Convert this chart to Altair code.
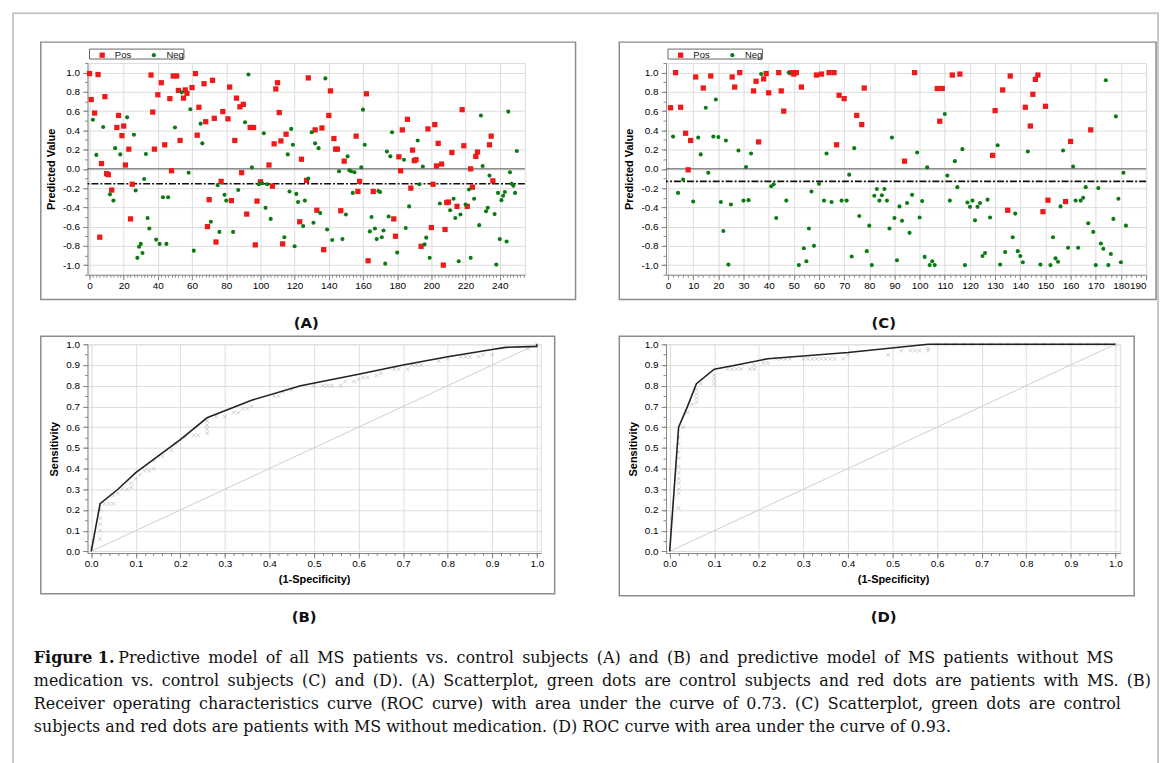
import altair as alt
import pandas as pd

# ---------------- data ----------------
A_POS_X = [0,1,3,5,6,7,9,10,11,13,16,17,19,20,21,23,24,25,36,37,38,40,42,44,47,48,49,51,52,53,55,56,57,60,62,63,64,67,68,69,70,72,73,74,77,78,81,82,83,85,86,88,89,90,92,94,96,97,98,100,105,107,108,109,110,111,112,113,115,123,124,127,128,132,133,136,137,140,141,143,144,145,147,149,156,157,158,162,163,166,178,179,181,182,183,186,188,189,190,191,194,198,200,201,202,203,204,206,207,208,209,210,212,215,218,219,221,223,224,226,227,234,235,236]
A_POS_Y = [0.99,0.72,0.58,0.98,-0.71,0.055,0.75,-0.05,-0.06,-0.22,0.43,0.555,0.345,0.445,0.04,0.205,-0.52,-0.16,0.975,0.59,0.205,0.77,0.895,0.25,0.73,-0.02,0.965,0.965,0.815,0.295,0.735,0.82,0.785,0.845,0.99,0.35,0.64,0.885,0.49,-0.6,-0.32,0.92,0.525,-0.76,-0.13,0.595,0.52,0.85,-0.33,0.295,0.735,0.645,-0.04,0.67,-0.47,0.43,0.43,-0.79,-0.335,-0.135,0.04,-0.18,0.26,0.83,0.895,0.585,0.29,-0.78,0.36,-0.55,0.1,-0.12,0.945,0.405,-0.43,0.425,-0.84,0.555,0.81,0.315,0.205,0.205,-0.435,0.08,0.34,-0.235,-0.13,0.78,-0.955,-0.235,-0.52,-0.7,0.125,-0.02,0.405,0.515,-0.2,0.195,0.085,0.095,-0.805,0.415,-0.61,-0.16,0.46,0.03,0.265,0.05,-1.0,-0.63,-0.35,-0.345,0.17,-0.39,0.615,0.24,-0.39,0.0,-0.19,0.13,0.175,0.25,0.34,-0.125]
A_NEG_X = [2,4,8,12,14,15,18,22,26,27,28,29,30,31,32,33,34,35,39,41,43,45,46,50,54,58,59,61,65,66,71,75,76,79,80,84,87,91,93,95,99,101,102,103,104,106,114,116,117,118,119,120,121,122,125,126,128,130,131,132,134,135,138,139,142,146,148,150,151,152,153,154,155,159,160,161,164,165,167,168,169,170,171,172,173,174,175,176,177,180,184,185,187,192,193,195,196,197,199,205,211,213,214,216,217,220,222,223,225,228,229,230,232,233,234,237,238,239,240,241,242,243,244,245,246,247,248,249,250]
A_NEG_Y = [0.51,0.145,0.435,-0.265,-0.33,0.215,0.15,0.535,0.355,-0.225,-0.925,-0.81,-0.78,-0.875,-0.105,0.155,-0.51,-0.62,-0.735,-0.78,-0.295,-0.78,-0.295,0.43,0.795,-0.04,0.62,-0.85,0.47,0.265,-0.55,-0.17,-0.655,-0.27,-0.33,-0.655,-0.22,0.485,0.98,0.015,-0.16,-0.15,0.37,-0.405,-0.16,-0.52,-0.71,0.15,-0.235,0.415,0.25,-0.805,-0.26,-0.345,-0.595,-0.33,-0.1,0.38,-0.56,0.265,0.215,-0.46,0.94,-0.63,-0.74,-0.025,-0.73,-0.475,0.13,-0.015,-0.025,-0.25,-0.035,0.015,0.615,0.25,-0.65,-0.5,-0.62,-0.73,-0.23,-0.24,-0.71,-0.64,-0.985,0.18,-0.495,0.13,0.38,-0.87,0.095,-0.615,-0.39,0.295,-0.16,0.025,-0.785,-0.715,-0.925,-0.36,-0.43,-0.31,-0.51,-0.96,-0.475,-0.37,-0.215,-0.925,-0.31,-0.585,0.555,0.03,-0.44,-0.405,-0.07,-0.47,-0.995,-0.25,-0.73,-0.325,-0.28,-0.24,-0.755,0.595,-0.035,-0.155,-0.175,-0.25,0.185]

C_POS_X = [1,3,5,7,8,9,11,14,17,25.5,26.5,28.5,34,35,36,38,39,40,44,45,46,49,50,51,53,59,61,64,66,67,68,70,75,77,78,94,98,107,108,109,113,116,129,130,133,135,136,142,144,145,146,147,149,150,151,158,160,168]
C_POS_Y = [0.635,1.0,0.64,0.37,-0.01,0.295,0.955,0.84,0.965,0.955,0.85,1.0,0.81,0.91,0.28,0.935,0.99,0.79,1.0,0.81,0.6,1.0,0.985,1.0,0.85,0.975,0.985,1.0,1.0,0.25,0.765,0.73,0.555,0.46,0.84,0.08,1.0,0.835,0.495,0.835,0.975,0.985,0.14,0.605,0.82,-0.43,0.965,0.64,0.445,0.775,0.93,0.975,-0.445,0.65,-0.325,-0.34,0.285,0.405]
C_NEG_X = [2,4,6,10,12,13,15,16,18,19,20,21,22,23,24,25,28,30,31,32,33,37,41,42,43,47,48,52,54,55,56,57,58,60,62,63,65,69,71,72,73,74,76,79,80,81,82,83,84,85,86,87,88,89,90,91,92,93,95,96,97,99,100,101,102,103,104,105,106,110,111,112,114,115,117,118,119,120,121,122,123,124,125,126,127,128,131,132,134,137,138,139,140,141,143,148,152,153,154,155,156,157,159,161,162,163,164,165,166,167,169,170,171,172,173,174,175,176,177,178,179,180,181,182]
C_NEG_Y = [0.335,-0.25,-0.11,-0.34,0.325,0.15,0.635,-0.04,0.335,0.72,0.33,-0.345,-0.645,0.295,-0.995,-0.37,0.19,-0.33,0.02,-0.325,0.16,0.985,-0.18,-0.16,-0.51,-0.33,1.0,-1.0,-0.825,-0.96,-0.62,-0.235,-0.8,-0.155,-0.33,0.16,-0.345,-0.33,-0.33,-0.06,-0.91,0.215,-0.49,-0.855,-0.59,-1.0,-0.28,-0.21,-0.33,-0.275,-0.21,-0.33,-0.62,0.325,-0.51,-0.95,-0.39,-0.54,-0.355,-0.665,-0.27,0.17,-0.505,-0.335,-0.915,0.015,-1.0,-0.96,-1.0,0.57,-0.07,-0.33,0.08,-0.19,0.205,-1.0,-0.35,-0.395,-0.33,-0.535,-0.395,-0.355,-0.905,-0.875,-0.32,-0.505,0.245,-0.995,-0.865,-0.71,-0.465,-0.855,-0.905,-0.97,0.18,-0.995,-1.0,-0.71,-0.93,-0.965,-0.39,0.19,-0.82,0.025,-0.33,-0.82,-0.33,-0.3,-0.19,-0.565,-0.655,-1.0,-0.2,-0.775,-0.83,0.92,-1.0,-0.885,-0.52,0.545,-0.31,-0.97,-0.04,-0.59]

A_THRESHOLD = -0.155
C_THRESHOLD = -0.13

B_CURVE_X = [0.0,0.02,0.06,0.10,0.20,0.26,0.36,0.47,0.60,0.70,0.80,0.90,0.93,1.0,1.0]
B_CURVE_Y = [0.0,0.23,0.30,0.38,0.54,0.645,0.73,0.80,0.855,0.90,0.94,0.975,0.985,0.99,1.0]
B_EMP_X = [0.0,0.005,0.02,0.02,0.02,0.02,0.02,0.03,0.04,0.05,0.05,0.06,0.07,0.08,0.09,0.09,0.10,0.11,0.12,0.13,0.14,0.14,0.15,0.16,0.18,0.19,0.20,0.21,0.23,0.24,0.26,0.26,0.26,0.26,0.28,0.30,0.32,0.33,0.34,0.35,0.36,0.41,0.42,0.43,0.45,0.50,0.52,0.53,0.54,0.56,0.57,0.59,0.60,0.61,0.62,0.64,0.65,0.68,0.69,0.71,0.72,0.73,0.74,0.78,0.80,0.83,0.84,0.85,0.87,0.88,0.90,0.98,1.0]
B_EMP_Y = [0.02,0.05,0.06,0.10,0.13,0.16,0.20,0.23,0.23,0.23,0.27,0.28,0.30,0.30,0.31,0.33,0.35,0.37,0.39,0.39,0.40,0.44,0.46,0.46,0.49,0.52,0.54,0.55,0.56,0.56,0.57,0.59,0.61,0.63,0.65,0.65,0.67,0.67,0.69,0.69,0.70,0.75,0.75,0.77,0.78,0.80,0.80,0.80,0.80,0.80,0.82,0.82,0.83,0.84,0.84,0.85,0.86,0.88,0.88,0.88,0.90,0.90,0.90,0.92,0.93,0.94,0.94,0.94,0.94,0.95,0.95,0.98,1.0]

D_CURVE_X = [0.0,0.02,0.04,0.06,0.10,0.15,0.22,0.40,0.58,1.0]
D_CURVE_Y = [0.0,0.60,0.70,0.81,0.88,0.90,0.93,0.96,1.0,1.0]
D_EMP_X = [0.005,0.02,0.02,0.02,0.02,0.02,0.02,0.02,0.02,0.02,0.02,0.02,0.03,0.04,0.05,0.06,0.06,0.06,0.06,0.07,0.10,0.10,0.10,0.13,0.14,0.15,0.16,0.18,0.19,0.19,0.21,0.22,0.24,0.25,0.26,0.27,0.30,0.31,0.32,0.33,0.34,0.35,0.36,0.37,0.39,0.40,0.49,0.52,0.54,0.55,0.56,0.58,0.58,0.60,0.62,0.64,0.66,0.68,0.70,0.72,0.74,0.76,0.78,0.80,0.82,0.84,0.86,0.88,0.90,0.92,0.94,0.96,0.98,1.0]
D_EMP_Y = [0.16,0.21,0.28,0.30,0.33,0.35,0.38,0.41,0.45,0.48,0.52,0.55,0.60,0.67,0.71,0.72,0.74,0.76,0.78,0.81,0.81,0.83,0.85,0.88,0.88,0.88,0.88,0.88,0.88,0.90,0.91,0.91,0.93,0.93,0.93,0.93,0.93,0.93,0.93,0.93,0.93,0.93,0.93,0.93,0.93,0.95,0.95,0.97,0.97,0.97,0.97,0.97,0.98,1.0,1.0,1.0,1.0,1.0,1.0,1.0,1.0,1.0,1.0,1.0,1.0,1.0,1.0,1.0,1.0,1.0,1.0,1.0,1.0,1.0]

CLASSES = ["Pos", "Neg"]
PANEL_LABELS = ["(A)", "(B)", "(C)", "(D)"]
Y_TITLE_SCATTER = "Predicted Value"
X_TITLE_ROC = "(1-Specificity)"
Y_TITLE_ROC = "Sensitivity"
CAPTION_BOLD = "Figure 1."
CAPTION_LINES = [
    "Predictive model of all MS patients vs. control subjects (A) and (B) and predictive model of MS patients without MS",
    "medication vs. control subjects (C) and (D). (A) Scatterplot, green dots are control subjects and red dots are patients with MS. (B)",
    "Receiver operating characteristics curve (ROC curve) with area under the curve of 0.73. (C) Scatterplot, green dots are control",
    "subjects and red dots are patients with MS without medication. (D) ROC curve with area under the curve of 0.93.",
]
JUSTIFIED = [True, True, True, False]

RED = "#ee1a1a"
GREEN = "#0b7a12"
FONT = "Liberation Sans"
CAP_FONT = "DejaVu Serif"
FRAME = "#8c8c8c"
MINUS = "\u2212"
THIN = "\u2009"
LABEL_EXPR = "replace(format(datum.value, '.1f'), '" + MINUS + "', '-')"

one = pd.DataFrame({"k": [0]})


def scatter_df(px, py, nx, ny):
    return pd.concat([
        pd.DataFrame({"x": px, "y": py, "cls": "Pos"}),
        pd.DataFrame({"x": nx, "y": ny, "cls": "Neg"}),
    ], ignore_index=True)


def frame_rect(x1, x2, y1, y2):
    return alt.Chart(one).mark_rect(filled=False, stroke=FRAME, strokeWidth=1.5).encode(
        x=alt.value(x1), x2=alt.value(x2), y=alt.value(y1), y2=alt.value(y2))


def panel_label(text, x, y):
    return alt.Chart(one).mark_text(font="DejaVu Sans", fontSize=15, fontWeight="bold",
                                    color="#111", align="center", baseline="middle",
                                    text=text).encode(x=alt.value(x), y=alt.value(y))


def scatter_panel(df, xdom, xmaj, xmin, thr, w, h, fr, label, labx):
    ymaj = [round(-1 + 0.2 * i, 1) for i in range(11)]
    ymin = [round(-1.1 + 0.1 * i, 1) for i in range(23)]
    leg = alt.Legend(orient="none", legendX=10, legendY=-13, direction="horizontal",
                     title=None, labelFontSize=9.5, labelFont=FONT, labelColor="#111",
                     columnPadding=18, labelOffset=8, padding=0, symbolStrokeWidth=0)
    xs = alt.Scale(domain=xdom, nice=False, zero=False)
    ys = alt.Scale(domain=[-1.1, 1.1], nice=False, zero=False)
    pts = alt.Chart(df).mark_point(filled=True, opacity=1, strokeWidth=0).encode(
        x=alt.X("x:Q", scale=xs, axis=alt.Axis(values=xmaj, orient="bottom", grid=True,
                                               tickSize=5, labelPadding=1, title=None)),
        y=alt.Y("y:Q", scale=ys, axis=alt.Axis(values=ymaj, orient="left", grid=True,
                                               tickSize=5, labelPadding=3,
                                               labelExpr=LABEL_EXPR,
                                               title=Y_TITLE_SCATTER, titlePadding=6)),
        color=alt.Color("cls:N", scale=alt.Scale(domain=CLASSES, range=[RED, GREEN]), legend=leg),
        shape=alt.Shape("cls:N", scale=alt.Scale(domain=CLASSES, range=["square", "circle"]), legend=leg),
        size=alt.Size("cls:N", scale=alt.Scale(domain=CLASSES, range=[28, 17]), legend=leg),
    )
    minor = alt.Chart(df).mark_point(opacity=0).encode(
        x=alt.X("x:Q", axis=alt.Axis(values=xmin, orient="bottom", grid=False, labels=False,
                                     domain=False, tickSize=2.5, title=None)),
        y=alt.Y("y:Q", axis=alt.Axis(values=ymin, orient="left", grid=False, labels=False,
                                     domain=False, tickSize=3, title=None)),
    )
    zero = alt.Chart(one).mark_rule(color="#555", strokeWidth=1).encode(
        y=alt.YDatum(0, axis=None))
    thr_rule = alt.Chart(one).mark_rule(color="#111", strokeWidth=1.6,
                                        strokeDash=[7, 2, 2, 2]).encode(
        y=alt.YDatum(thr, axis=None))
    legbox = alt.Chart(one).mark_rect(filled=False, stroke="#666", strokeWidth=1).encode(
        x=alt.value(2), x2=alt.value(97), y=alt.value(-14), y2=alt.value(-4))
    return alt.layer(
        frame_rect(*fr), minor, zero, thr_rule, pts, legbox, panel_label(label, labx, 262)
    ).resolve_axis(x="independent", y="independent").properties(width=w, height=h)


def roc_panel(cx, cy, ex, ey, xdom, w, h, fr, label, labx):
    maj = [round(0.1 * i, 1) for i in range(11)]
    xmin = [round(0.02 * i, 2) for i in range(51)]
    ymin = [round(0.05 * i, 2) for i in range(21)]
    xs = alt.Scale(domain=xdom, nice=False, zero=False)
    ys = alt.Scale(domain=[-0.008, 1.0], nice=False, zero=False)
    diag = alt.Chart(pd.DataFrame({"x": [0.0, 1.0], "y": [0.0, 1.0]})).mark_line(
        color="#cfcfcf", strokeWidth=1).encode(
        x=alt.X("x:Q", scale=xs, axis=alt.Axis(values=maj, orient="bottom", grid=True,
                                               tickSize=5, labelPadding=1, format=".1f",
                                               title=X_TITLE_ROC, titlePadding=5)),
        y=alt.Y("y:Q", scale=ys, axis=alt.Axis(values=maj, orient="left", grid=True,
                                               tickSize=5, labelPadding=3, format=".1f",
                                               title=Y_TITLE_ROC, titlePadding=6)),
    )
    minor = alt.Chart(pd.DataFrame({"x": [0.0, 1.0], "y": [0.0, 1.0]})).mark_point(opacity=0).encode(
        x=alt.X("x:Q", axis=alt.Axis(values=xmin, orient="bottom", grid=False, labels=False,
                                     domain=False, tickSize=2.5, title=None)),
        y=alt.Y("y:Q", axis=alt.Axis(values=ymin, orient="left", grid=False, labels=False,
                                     domain=False, tickSize=3, title=None)),
    )
    emp = alt.Chart(pd.DataFrame({"x": ex, "y": ey})).mark_point(
        shape="M-1,-1L1,1M-1,1L1,-1", filled=False, color="#a9a9a9", size=14,
        strokeWidth=0.8).encode(x=alt.X("x:Q", axis=None), y=alt.Y("y:Q", axis=None))
    curve = alt.Chart(pd.DataFrame({"x": cx, "y": cy, "i": list(range(len(cx)))})).mark_line(
        color="#222", strokeWidth=1.6).encode(
        x=alt.X("x:Q", axis=None), y=alt.Y("y:Q", axis=None), order="i:Q")
    return alt.layer(
        frame_rect(*fr), minor, diag, emp, curve, panel_label(label, labx, 274)
    ).resolve_axis(x="independent", y="independent").properties(width=w, height=h)


panelA = scatter_panel(scatter_df(A_POS_X, A_POS_Y, A_NEG_X, A_NEG_Y), [-1.16, 254.7],
                       list(range(0, 241, 20)), list(range(0, 255, 2)), A_THRESHOLD,
                       440, 213, (-47, 491, -21, 238), PANEL_LABELS[0], 220)
panelC = scatter_panel(scatter_df(C_POS_X, C_POS_Y, C_NEG_X, C_NEG_Y), [-0.8, 190.0],
                       list(range(0, 191, 10)), list(range(0, 191, 2)), C_THRESHOLD,
                       483, 213, (-47, 493, -21, 238), PANEL_LABELS[2], 219)
panelB = roc_panel(B_CURVE_X, B_CURVE_Y, B_EMP_X, B_EMP_Y, [-0.0083, 1.0089], 456, 210,
                   (-47, 470, -8, 251), PANEL_LABELS[1], 218)
panelD = roc_panel(D_CURVE_X, D_CURVE_Y, D_EMP_X, D_EMP_Y, [-0.0083, 1.011], 457, 210,
                   (-47, 471, -8, 253), PANEL_LABELS[3], 219)

outer = alt.Chart(one).mark_rect(filled=False, stroke="#c8c8c8", strokeWidth=2).encode(
    x=alt.value(-75), x2=alt.value(1077), y=alt.value(-613), y2=alt.value(150))
cap_layers = [outer,
              alt.Chart(one).mark_text(font=CAP_FONT, fontSize=16, fontWeight="bold",
                                       color="#111", align="left", baseline="middle",
                                       text=CAPTION_BOLD).encode(x=alt.value(-54), y=alt.value(36))]
for i, line in enumerate(CAPTION_LINES):
    txt = line.replace(" ", " " + THIN) if JUSTIFIED[i] else line
    cap_layers.append(
        alt.Chart(one).mark_text(font=CAP_FONT, fontSize=16, color="#111",
                                 align="left", baseline="middle", text=txt).encode(
            x=alt.value(31 if i == 0 else -54), y=alt.value(36 + 23 * i)))
caption = alt.layer(*cap_layers).properties(width=440, height=110,
                                            view=alt.ViewBackground(stroke="transparent"))

chart = alt.concat(panelA, panelC, panelB, panelD, caption, columns=2,
                   spacing={"row": 70, "column": 126}, bounds="flush").resolve_scale(
    color="independent", shape="independent", size="independent"
).properties(
    padding={"left": 3, "top": 1, "right": 0, "bottom": 0}
).configure_view(stroke="#444", strokeWidth=1).configure_axis(
    labelFont=FONT, labelFontSize=9.5, labelColor="#111",
    titleFont=FONT, titleFontSize=9, titleFontWeight="bold", titleColor="#111",
    domainColor="#444", tickColor="#444", gridColor="#c4c4c4", gridDash=[1.5, 2],
    gridWidth=1
).configure(background="white")

chart.save("out.html", embed_options={"renderer": "svg", "actions": False})
